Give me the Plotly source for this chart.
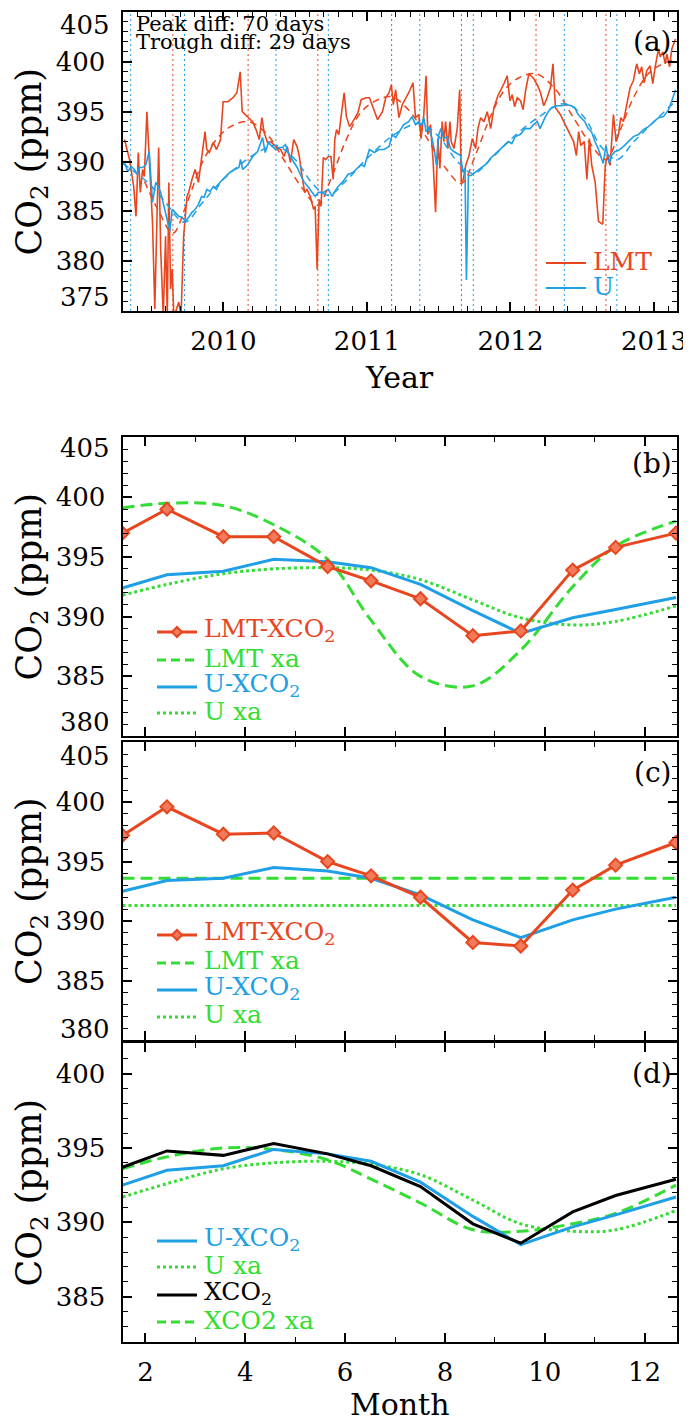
import plotly.graph_objects as go

# The page body adds an 8 px margin, so the figure is sized to fill the remaining window
W, H = 683, 1416
OFF = 8
RED = '#e8461e'
BLUE = '#1e9fe6'
GREEN = '#33dd33'
BLACK = '#000000'
FONT = 'DejaVu Serif'

# ---------------- panel (a): time series ----------------
lmt_year = [2009.311, 2009.346, 2009.375, 2009.391, 2009.407, 2009.421, 2009.437, 2009.449, 2009.467, 2009.476,
            2009.490, 2009.506, 2009.522, 2009.536, 2009.549, 2009.563, 2009.581, 2009.597, 2009.609, 2009.620,
            2009.632, 2009.643, 2009.655, 2009.673, 2009.689, 2009.705, 2009.723, 2009.746, 2009.758, 2009.781,
            2009.803, 2009.826, 2009.849, 2009.872, 2009.884, 2009.902, 2009.929, 2009.952, 2009.980, 2009.998,
            2010.032, 2010.067, 2010.094, 2010.117, 2010.131, 2010.170, 2010.204, 2010.227, 2010.250, 2010.268,
            2010.284, 2010.307, 2010.330, 2010.364, 2010.399, 2010.422, 2010.445, 2010.467, 2010.490, 2010.513,
            2010.529, 2010.548, 2010.566, 2010.582, 2010.605, 2010.628, 2010.639, 2010.653, 2010.667, 2010.680,
            2010.696, 2010.712, 2010.731, 2010.749, 2010.765, 2010.776, 2010.788, 2010.804, 2010.822, 2010.841,
            2010.857, 2010.879, 2010.902, 2010.937, 2010.960, 2010.994, 2011.017, 2011.051, 2011.074, 2011.108,
            2011.131, 2011.154, 2011.170, 2011.184, 2011.200, 2011.223, 2011.246,
            2011.291, 2011.321, 2011.338, 2011.361, 2011.377, 2011.396, 2011.412, 2011.424, 2011.443, 2011.461,
            2011.478, 2011.494, 2011.508, 2011.524, 2011.536, 2011.548, 2011.564, 2011.578, 2011.587, 2011.606,
            2011.629, 2011.646, 2011.657, 2011.671, 2011.688, 2011.711, 2011.734, 2011.757, 2011.773, 2011.792,
            2011.815, 2011.838, 2011.862, 2011.885, 2011.912, 2011.931, 2011.954, 2011.977, 2011.996, 2012.012,
            2012.029, 2012.047, 2012.070, 2012.088, 2012.105, 2012.128, 2012.163, 2012.190, 2012.209, 2012.232,
            2012.255, 2012.278, 2012.296, 2012.313, 2012.348, 2012.371, 2012.405, 2012.440, 2012.459, 2012.475,
            2012.490, 2012.514, 2012.532, 2012.550, 2012.566, 2012.590, 2012.613, 2012.643, 2012.660, 2012.676,
            2012.694, 2012.705, 2012.717, 2012.736, 2012.752, 2012.768, 2012.787, 2012.810, 2012.833, 2012.856,
            2012.879, 2012.898, 2012.914, 2012.931, 2012.949, 2012.973, 2012.991, 2013.008, 2013.031, 2013.043,
            2013.061, 2013.078, 2013.089, 2013.108, 2013.124, 2013.150]
lmt_co2 = [392.2, 390.2, 387.5, 384.5, 390.9, 386.9, 389.2, 388.5, 395.0, 392.5,
           387.2, 383.9, 375.2, 384.5, 391.4, 381.2, 374.5, 382.5, 374.5, 387.9,
           377.2, 379.2, 374.3, 375.2, 375.9, 374.5, 382.5, 386.5, 386.9, 388.2,
           389.2, 387.9, 390.2, 393.0, 391.2, 390.9, 391.9, 391.2, 392.2, 396.0,
           396.0, 396.4, 396.9, 399.0, 395.0, 394.5, 394.0, 393.2, 392.2, 394.4,
           392.9, 391.9, 392.0, 391.5, 391.2, 390.5, 391.5, 389.9, 392.2, 391.5,
           390.5, 388.5, 386.9, 387.2, 386.5, 385.2, 385.5, 379.2, 386.2, 385.5,
           390.4, 390.2, 390.5, 390.5, 388.2, 392.2, 393.2, 392.7, 394.7, 396.9,
           394.5, 393.5, 394.0, 394.9, 396.2, 396.4, 396.4, 395.2, 394.2, 395.0,
           396.4, 396.9, 397.7, 395.7, 397.2, 394.4, 395.7,
           396.9, 397.9, 394.4, 394.7, 392.3, 394.7, 398.6, 392.7, 393.7, 390.0,
           384.9, 392.3, 389.3, 394.0, 392.0, 394.0, 391.3, 394.0, 392.0, 391.3,
           393.3, 397.2, 387.9, 388.2, 389.6, 390.6, 392.3, 391.3, 393.3, 394.4,
           394.0, 395.0, 393.3, 395.4, 396.6, 397.1, 397.8, 398.6, 396.1, 396.7,
           395.5, 396.4, 396.1, 395.2, 397.1, 398.8, 398.3, 397.6, 396.9, 395.6,
           396.4, 397.4, 399.8, 395.4, 394.7, 394.0, 393.0, 392.0, 390.6, 393.0,
           391.6, 392.0, 388.2, 392.3, 389.6, 387.9, 384.0, 383.7, 389.6, 390.6,
           389.6, 392.5, 394.7, 392.0, 392.7, 394.4, 394.0, 395.7, 397.4, 398.1,
           399.8, 398.8, 399.5, 397.9, 399.1, 399.6, 397.8, 399.5, 401.3, 400.5,
           401.0, 399.8, 400.8, 399.5, 401.3, 402.3]

u_year = [2009.311, 2009.334, 2009.357, 2009.380, 2009.398, 2009.414, 2009.437, 2009.460, 2009.483, 2009.494,
          2009.506, 2009.529, 2009.545, 2009.563, 2009.586, 2009.609, 2009.627, 2009.643, 2009.666, 2009.689,
          2009.712, 2009.735, 2009.758, 2009.781, 2009.804, 2009.826, 2009.849, 2009.865, 2009.884, 2009.907,
          2009.930, 2009.952, 2009.975, 2009.998, 2010.021, 2010.044, 2010.078, 2010.108, 2010.119, 2010.135,
          2010.170, 2010.204, 2010.238, 2010.273, 2010.291, 2010.314, 2010.341, 2010.364, 2010.387, 2010.410,
          2010.433, 2010.451, 2010.479, 2010.514, 2010.536, 2010.559, 2010.589, 2010.616, 2010.639, 2010.662,
          2010.696, 2010.731, 2010.758, 2010.776, 2010.799, 2010.834, 2010.868, 2010.902, 2010.925, 2010.960,
          2010.982, 2011.017, 2011.051, 2011.085, 2011.120, 2011.154, 2011.177, 2011.200, 2011.234,
          2011.256, 2011.291, 2011.314, 2011.338, 2011.361, 2011.377, 2011.396, 2011.412, 2011.431, 2011.454,
          2011.470, 2011.484, 2011.500, 2011.516, 2011.535, 2011.558, 2011.582, 2011.605, 2011.628, 2011.652,
          2011.669, 2011.683, 2011.693, 2011.707, 2011.725, 2011.744, 2011.767, 2011.790, 2011.813, 2011.836,
          2011.859, 2011.882, 2011.905, 2011.929, 2011.952, 2011.986, 2012.009, 2012.033, 2012.067, 2012.102,
          2012.137, 2012.160, 2012.187, 2012.206, 2012.240, 2012.263, 2012.286, 2012.320, 2012.355, 2012.390,
          2012.424, 2012.448, 2012.471, 2012.494, 2012.518, 2012.541, 2012.564, 2012.588, 2012.611, 2012.634,
          2012.646, 2012.665, 2012.688, 2012.704, 2012.728, 2012.751, 2012.786, 2012.821, 2012.856, 2012.891,
          2012.926, 2012.961, 2012.996, 2013.031, 2013.066, 2013.101, 2013.124, 2013.150]
u_co2 = [389.9, 389.0, 389.5, 389.2, 388.7, 389.4, 389.4, 389.7, 391.0, 388.2,
         385.9, 387.9, 387.5, 386.9, 385.5, 383.9, 383.0, 385.2, 384.9, 384.5,
         384.4, 384.0, 384.4, 384.9, 385.2, 385.7, 386.5, 386.4, 387.2, 387.0,
         387.5, 387.2, 387.9, 388.2, 388.5, 388.9, 389.2, 389.4, 390.2, 389.2,
         389.7, 390.5, 391.0, 392.4, 390.9, 391.9, 391.5, 391.2, 391.4, 391.4,
         391.7, 390.9, 390.2, 389.4, 388.7, 388.0, 387.5, 387.0, 386.5, 386.9,
         386.9, 387.2, 386.5, 387.0, 387.5, 388.0, 388.7, 388.9, 389.2, 389.7,
         389.5, 391.2, 390.9, 391.2, 391.2, 391.5, 392.7, 392.4, 393.2,
         393.7, 394.0, 394.5, 393.7, 394.0, 393.5, 394.4, 393.0, 393.3, 392.3,
         391.1, 389.6, 392.7, 393.3, 392.3, 392.5, 391.3, 391.0, 390.8, 390.6,
         388.9, 389.3, 378.1, 388.6, 388.6, 388.8, 389.1, 389.3, 389.6, 389.8,
         390.3, 390.6, 391.0, 391.3, 391.6, 392.0, 391.8, 392.5, 392.7, 393.3,
         393.3, 393.7, 394.0, 393.3, 394.4, 395.0, 395.4, 395.6, 395.6, 395.7,
         395.6, 395.4, 394.7, 394.4, 394.0, 393.3, 393.0, 392.0, 391.3, 390.3,
         389.8, 391.6, 389.8, 390.6, 391.0, 391.1, 391.5, 392.0, 392.5, 392.7,
         393.2, 393.5, 394.0, 394.4, 394.5, 395.2, 396.1, 397.2]

lmt_fit_year = [2009.45, 2009.55, 2009.648, 2009.75, 2009.85, 2009.95, 2010.05, 2010.172, 2010.30, 2010.42,
                2010.55, 2010.658, 2010.75, 2010.85, 2010.95, 2011.05, 2011.172, 2011.30, 2011.42, 2011.55,
                2011.658, 2011.76, 2011.86, 2011.96, 2012.06, 2012.178, 2012.31, 2012.43, 2012.56, 2012.665,
                2012.76, 2012.86, 2012.96, 2013.06, 2013.16]
lmt_fit_co2 = [388.0, 385.0, 382.8, 386.0, 389.8, 392.2, 393.5, 394.0, 392.8, 390.2,
               387.3, 385.6, 388.3, 392.0, 394.8, 396.0, 396.5, 395.0, 392.3, 389.3,
               387.8, 390.8, 394.5, 397.2, 398.4, 398.8, 397.3, 394.6, 391.7, 390.2,
               393.0, 396.5, 398.8, 399.8, 400.3]
u_fit_year = [2009.297, 2009.45, 2009.58, 2009.729, 2009.85, 2009.95, 2010.1, 2010.25, 2010.366, 2010.5,
              2010.62, 2010.731, 2010.85, 2011.0, 2011.2, 2011.368, 2011.5, 2011.63, 2011.741, 2011.86,
              2012.0, 2012.2, 2012.375, 2012.51, 2012.63, 2012.741, 2012.86, 2013.0, 2013.16]
u_fit_co2 = [389.8, 388.2, 386.2, 383.9, 385.8, 387.5, 389.5, 391.0, 391.6, 390.2,
             387.8, 386.6, 388.0, 390.3, 392.8, 393.8, 392.5, 390.0, 388.8, 390.2,
             392.2, 394.5, 395.8, 394.5, 391.5, 390.2, 392.0, 394.0, 396.2]

lmt_extrema = [2009.648, 2010.172, 2010.658, 2011.172, 2011.658, 2012.178, 2012.665]
u_extrema = [2009.354, 2009.729, 2010.366, 2010.731, 2011.368, 2011.741, 2012.375, 2012.741]
year_ticks = [2010, 2011, 2012, 2013]
year_labels = ['2010', '2011', '2012', '2013']

# ---------------- panels (b)-(d): monthly means ----------------
month = [1.54, 2.43, 3.56, 4.57, 5.65, 6.52, 7.51, 8.56, 9.52, 10.56, 11.42, 12.63]
b_lmt_xco2 = [397.0, 399.0, 396.7, 396.7, 394.2, 393.0, 391.5, 388.4, 388.8, 393.9, 395.8, 397.0]
b_lmt_xa = [399.1, 399.5, 399.3, 397.7, 394.8, 389.7, 385.0, 384.2, 387.2, 392.5, 395.9, 398.0]
b_u_xco2 = [392.4, 393.5, 393.8, 394.8, 394.6, 394.1, 392.7, 390.5, 388.6, 389.9, 390.6, 391.6]
b_u_xa = [391.8, 392.7, 393.6, 394.0, 394.1, 393.9, 393.1, 391.4, 389.9, 389.3, 389.6, 390.9]

c_lmt_xco2 = [397.2, 399.6, 397.3, 397.4, 395.0, 393.8, 392.0, 388.2, 387.9, 392.6, 394.7, 396.6]
c_lmt_xa = [393.6] * 12
c_u_xco2 = [392.5, 393.4, 393.6, 394.5, 394.2, 393.6, 392.2, 390.1, 388.6, 390.1, 391.0, 392.0]
c_u_xa = [391.3] * 12

d_u_xco2 = [392.5, 393.5, 393.8, 394.9, 394.6, 394.1, 392.7, 390.4, 388.5, 389.7, 390.5, 391.7]
d_u_xa = [391.7, 392.6, 393.6, 394.0, 394.1, 393.9, 393.2, 391.5, 389.9, 389.4, 389.5, 390.8]
d_xco2 = [393.7, 394.8, 394.5, 395.3, 394.6, 393.8, 392.4, 389.9, 388.6, 390.7, 391.8, 392.9]
d_xco2_xa = [393.6, 394.4, 395.0, 394.9, 394.2, 392.9, 391.3, 389.5, 389.4, 389.9, 390.6, 392.5]
month_ticks = [2, 4, 6, 8, 10, 12]

# ---------------- geometry (window pixels) ----------------
PX_L, PX_R = 122.5, 677
PANELS = {'a': (12, 311), 'b': (437, 736), 'c': (742, 1040), 'd': (1043, 1342)}


def px(xp):
    return (xp - OFF) / W


def py(yp):
    return 1 - (yp - OFF) / H


def ydom(top, bottom):
    return [py(bottom), py(top)]


fig = go.Figure()


def add(x, y, xa, ya, color, width, dash='solid', shape='linear', mode='lines', marker=None):
    kw = dict(x=x, y=y, mode=mode, xaxis=xa, yaxis=ya, showlegend=False, hoverinfo='skip',
              line=dict(color=color, width=width, dash=dash, shape=shape))
    if marker:
        kw['marker'] = marker
    fig.add_trace(go.Scatter(**kw))


# (a)
add(lmt_year, lmt_co2, 'x', 'y', RED, 1.6)
add(u_year, u_co2, 'x', 'y', BLUE, 1.6)
add(lmt_fit_year, lmt_fit_co2, 'x', 'y', RED, 1.5, dash='7px,5px', shape='spline')
add(u_fit_year, u_fit_co2, 'x', 'y', BLUE, 1.5, dash='7px,5px', shape='spline')

diamond = dict(symbol='diamond', size=10, color='#f07a5a', line=dict(color=RED, width=2))
# (b)
add(month, b_lmt_xa, 'x2', 'y2', GREEN, 3, dash='12px,6px', shape='spline')
add(month, b_u_xa, 'x2', 'y2', GREEN, 3, dash='dot', shape='spline')
add(month, b_u_xco2, 'x2', 'y2', BLUE, 3)
add(month, b_lmt_xco2, 'x2', 'y2', RED, 3, mode='lines+markers', marker=diamond)
# (c)
add(month, c_lmt_xa, 'x3', 'y3', GREEN, 3, dash='12px,6px')
add(month, c_u_xa, 'x3', 'y3', GREEN, 3, dash='dot')
add(month, c_u_xco2, 'x3', 'y3', BLUE, 3)
add(month, c_lmt_xco2, 'x3', 'y3', RED, 3, mode='lines+markers', marker=diamond)
# (d)
add(month, d_u_xa, 'x4', 'y4', GREEN, 3, dash='dot', shape='spline')
add(month, d_xco2_xa, 'x4', 'y4', GREEN, 3, dash='12px,6px', shape='spline')
add(month, d_u_xco2, 'x4', 'y4', BLUE, 3)
add(month, d_xco2, 'x4', 'y4', BLACK, 3)

tickfont = dict(family=FONT, size=26, color='black')
common = dict(showline=True, linewidth=2, linecolor='black', mirror='ticks', ticks='inside',
              ticklen=9, tickwidth=1.5, tickcolor='black', showgrid=False, zeroline=False,
              tickfont=tickfont, automargin=False, ticklabeloverflow='allow')

layout = dict(width=W, height=H, margin=dict(l=0, r=0, t=0, b=0, pad=0, autoexpand=False),
              paper_bgcolor='white', plot_bgcolor='white', showlegend=False,
              font=dict(family=FONT, color='black'))

layout['xaxis'] = dict(common, domain=[px(PX_L), px(PX_R)], range=[2009.297, 2013.16], anchor='y',
                       tickvals=year_ticks, ticktext=year_labels, ticklabelstandoff=6,
                       minor=dict(ticks='inside', dtick=0.1, tick0=2010, ticklen=5, tickwidth=1, tickcolor='black'))
layout['yaxis'] = dict(common, domain=ydom(*PANELS['a']), range=[375, 405], anchor='x',
                       tickvals=[380, 385, 390, 395, 400], ticklabelstandoff=10,
                       minor=dict(ticks='inside', dtick=1, tick0=375, ticklen=5, tickwidth=1, tickcolor='black'))
for i, key, rng in [(2, 'b', [380, 405.05]), (3, 'c', [380, 405.05]), (4, 'd', [381.96, 402.05])]:
    layout[f'xaxis{i}'] = dict(common, domain=[px(PX_L), px(PX_R)], range=[1.54, 12.65], anchor=f'y{i}',
                               tickvals=month_ticks, showticklabels=(i == 4), ticklabelstandoff=6,
                               minor=dict(ticks='inside', dtick=1, tick0=0, ticklen=5, tickwidth=1, tickcolor='black'))
    layout[f'yaxis{i}'] = dict(common, domain=ydom(*PANELS[key]), range=rng, anchor=f'x{i}',
                               tickvals=[385, 390, 395, 400], ticklabelstandoff=10,
                               minor=dict(ticks='inside', dtick=1, tick0=380, ticklen=5, tickwidth=1, tickcolor='black'))

shapes = []
for xv in lmt_extrema:
    shapes.append(dict(type='line', xref='x', yref='y domain', x0=xv, x1=xv, y0=0, y1=1,
                       line=dict(color=RED, width=1, dash='2px,3px'), layer='below'))
for xv in u_extrema:
    shapes.append(dict(type='line', xref='x', yref='y domain', x0=xv, x1=xv, y0=0, y1=1,
                       line=dict(color=BLUE, width=1, dash='2px,3px'), layer='below'))

ann = []
# edge tick labels (nudged inside the frame as in the original)
lab_x = px(PX_L - 12)
for yref, val, shift in [('y', 405, -13), ('y', 375, 14), ('y2', 405, -10), ('y2', 380, 14),
                         ('y3', 405, -13), ('y3', 380, 11)]:
    ann.append(dict(text=str(val), xref='paper', yref=yref, x=lab_x, y=val, xanchor='right', yanchor='middle',
                    yshift=shift, showarrow=False, font=tickfont, borderpad=0))

# axis titles
for key in 'abcd':
    top, bot = PANELS[key]
    ann.append(dict(text='CO<sub>2</sub> (ppm)', xref='paper', yref='paper', x=px(31), y=py((top + bot) / 2),
                    xanchor='center', yanchor='middle', textangle=-90, showarrow=False,
                    font=dict(family=FONT, size=35, color='black')))
ann.append(dict(text='Year', xref='paper', yref='paper', x=px((PX_L + PX_R) / 2), y=py(377), xanchor='center',
                yanchor='middle', showarrow=False, font=dict(family=FONT, size=30, color='black')))
ann.append(dict(text='Month', xref='paper', yref='paper', x=px((PX_L + PX_R) / 2), y=py(1404), xanchor='center',
                yanchor='middle', showarrow=False, font=dict(family=FONT, size=30, color='black')))

# panel letters
for lab, yc in [('(a)', 42), ('(b)', 463), ('(c)', 772), ('(d)', 1073)]:
    ann.append(dict(text=lab, xref='paper', yref='paper', x=px(674), y=py(yc), xanchor='right',
                    yanchor='middle', showarrow=False, font=dict(family=FONT, size=28, color='black')))

# peak/trough text
ann.append(dict(text='Peak diff: 70 days', xref='paper', yref='paper', x=px(134), y=py(24), xanchor='left',
                yanchor='middle', showarrow=False, font=dict(family=FONT, size=21, color='black')))
ann.append(dict(text='Trough diff: 29 days', xref='paper', yref='paper', x=px(134), y=py(42), xanchor='left',
                yanchor='middle', showarrow=False, font=dict(family=FONT, size=21, color='black')))


# legends (key line + coloured label)
def legend_entry(x0, x1, yc, color, width, dash, text, size, diamond_key=False):
    shapes.append(dict(type='line', xref='paper', yref='paper', x0=px(x0), x1=px(x1), y0=py(yc), y1=py(yc),
                       line=dict(color=color, width=width, dash=dash)))
    if diamond_key:
        cx, r = (x0 + x1) / 2, 5
        path = (f'M{px(cx - r)},{py(yc)} L{px(cx)},{py(yc - r)} L{px(cx + r)},{py(yc)} '
                f'L{px(cx)},{py(yc + r)} Z')
        shapes.append(dict(type='path', xref='paper', yref='paper', path=path, fillcolor='#f07a5a',
                           line=dict(color=color, width=2)))
    ann.append(dict(text=text, xref='paper', yref='paper', x=px(x1 + 5), y=py(yc - 2), xanchor='left',
                    yanchor='middle', showarrow=False, font=dict(family=FONT, size=size, color=color)))


legend_entry(546, 586, 263, RED, 2, 'solid', 'LMT', 25)
legend_entry(546, 586, 288, BLUE, 2, 'solid', 'U', 25)

for rows in [(632, 660, 687, 713), (935, 963, 990, 1017)]:
    legend_entry(157, 197, rows[0], RED, 3, 'solid', 'LMT-XCO<sub>2</sub>', 25, diamond_key=True)
    legend_entry(157, 197, rows[1], GREEN, 3, '9px,5px', 'LMT xa', 25)
    legend_entry(157, 197, rows[2], BLUE, 3, 'solid', 'U-XCO<sub>2</sub>', 25)
    legend_entry(157, 197, rows[3], GREEN, 3, 'dot', 'U xa', 25)

legend_entry(157, 197, 1241, BLUE, 3, 'solid', 'U-XCO<sub>2</sub>', 25)
legend_entry(157, 197, 1267, GREEN, 3, 'dot', 'U xa', 25)
legend_entry(157, 197, 1295, BLACK, 3, 'solid', 'XCO<sub>2</sub>', 25)
legend_entry(157, 197, 1322, GREEN, 3, '9px,5px', 'XCO2 xa', 25)

layout['shapes'] = shapes
layout['annotations'] = ann
fig.update_layout(**layout)
fig.write_html('out.html')
